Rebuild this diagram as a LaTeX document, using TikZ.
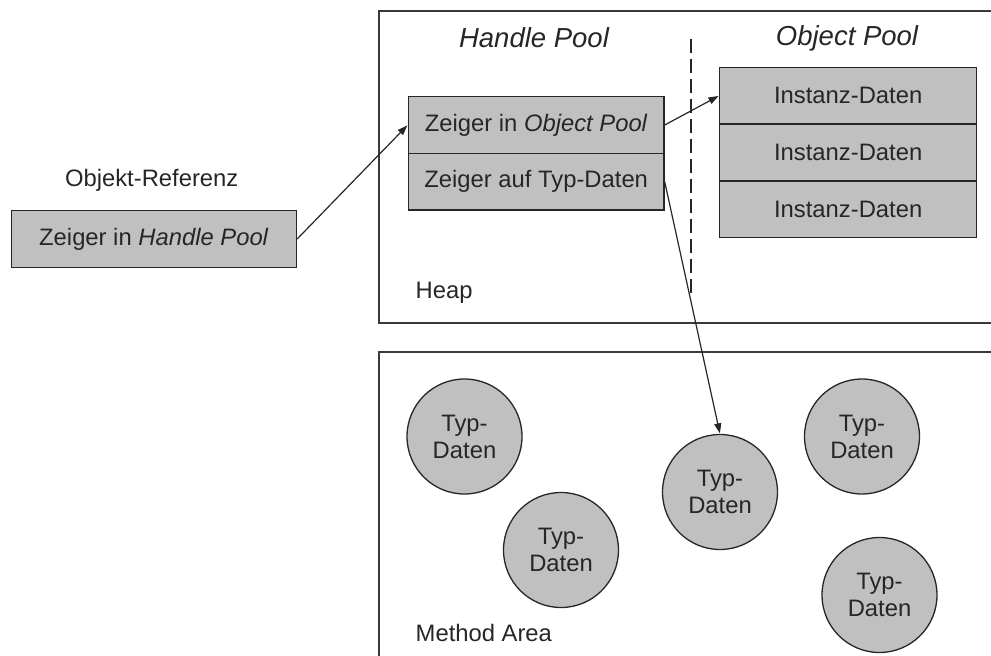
\documentclass[tikz,border=0pt]{standalone}
\usepackage{fontspec}
\setmainfont{Liberation Sans}
\usetikzlibrary{arrows.meta}
\definecolor{boxgray}{HTML}{C0C0C0}
\definecolor{ink}{HTML}{262626}
\definecolor{frame}{HTML}{3A3A3A}
\begin{document}
\begin{tikzpicture}[x={(1pt,0)}, y={(0,-1pt)},
  txt/.style={text=ink, font=\fontsize{23.8}{27}\selectfont, inner sep=0pt},
  title/.style={text=ink, font=\fontsize{27.5}{30}\selectfont\itshape, inner sep=0pt},
  cell/.style={draw=ink, line width=1.4pt, fill=boxgray, txt, minimum width=#1, minimum height=56.7pt, anchor=north west},
  blob/.style={circle, draw=ink, line width=1.3pt, fill=boxgray, txt, minimum size=115pt, align=center},
  area/.style={draw=frame, line width=1.8pt},
  link/.style={draw=ink, line width=1.2pt, -{Triangle[length=10pt,width=7pt]}, shorten >=0.5pt}
]
\useasboundingbox (0,0) rectangle (991,656);
\clip (0,0) rectangle (991,656);

% memory regions
\draw[area] (379,11) rectangle (1010,323);
\draw[area] (379,352) rectangle (1010,680);
\node[txt, anchor=west] (heap) at (415.5,293) {Heap};
\node[txt, anchor=west] (method) at (415.5,633) {Method Area};

% pool titles and separator
\node[title] (hpool) at (534,38) {Handle Pool};
\node[title] (opool) at (847,38) {Object Pool};
\coordinate (sepTop) at (691,39);
\coordinate (sepBot) at (691,297);
\draw[ink, line width=1.4pt, dash pattern=on 14pt off 6pt] (sepTop) -- (sepBot);

% object reference
\node[txt] (reflabel) at (151.7,180.7) {Objekt-Referenz};
\node[cell=285pt] (ref) at (10.7,210) {Zeiger in \textit{Handle Pool}};

% handle
\node[cell=255.6pt] (h1) at (407.7,96) {Zeiger in \textit{Object Pool}};
\node[cell=255.6pt] (h2) at (407.7,152.7) {Zeiger auf Typ-Daten};

% instance data
\node[cell=257pt] (o1) at (719,66.7) {Instanz-Daten};
\node[cell=257pt] (o2) at (719,123.4) {Instanz-Daten};
\node[cell=257pt] (o3) at (719,180.1) {Instanz-Daten};

% type data
\node[blob] (t1) at (464.5,436.5) {Typ-\\Daten};
\node[blob] (t2) at (561,550) {Typ-\\Daten};
\node[blob] (t3) at (720,492) {Typ-\\Daten};
\node[blob] (t4) at (862,436.5) {Typ-\\Daten};
\node[blob] (t5) at (879.5,595) {Typ-\\Daten};

% pointers
\draw[link] (ref.east) -- (h1.west);
\draw[link] (h1.east) -- (o1.west);
\draw[link] (h2.east) -- (t3.north);
\end{tikzpicture}
\end{document}
